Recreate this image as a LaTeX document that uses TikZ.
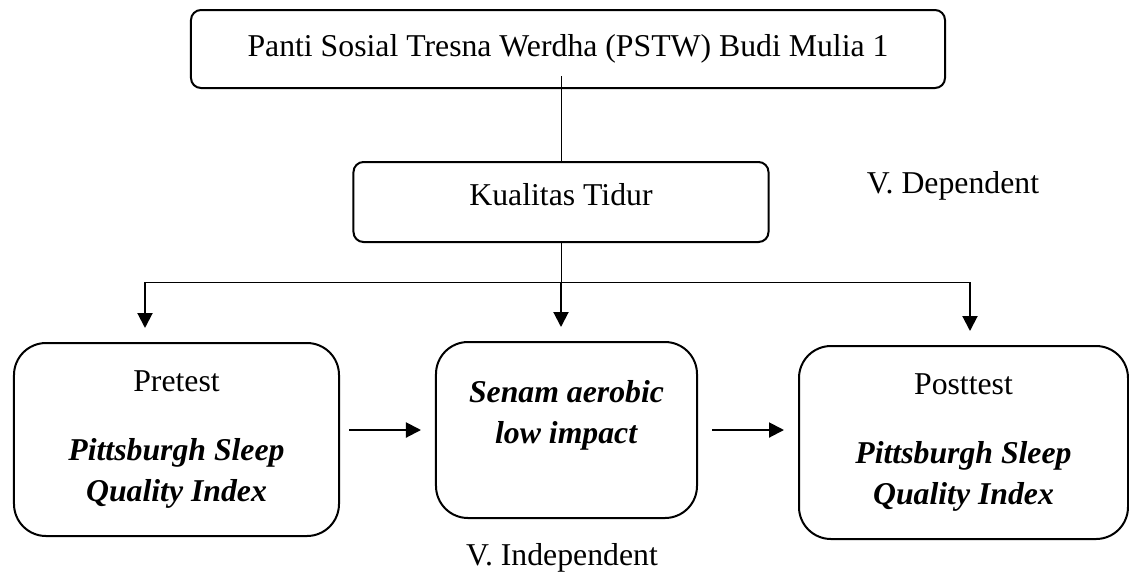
\documentclass[tikz,border=0pt]{standalone}
\usepackage{fontspec}
\setmainfont{Liberation Serif}
\usepackage{tikz}
\usetikzlibrary{arrows.meta,positioning}

\begin{document}
\begin{tikzpicture}[x=0.4pt, y=-0.4pt, font=\fontsize{12.7}{16.4}\selectfont,
  box/.style={draw, line width=0.8pt, rounded corners=4pt, align=center},
  bigbox/.style={box, rounded corners=12.8pt},
  arrow/.style={line width=0.8pt, -{Triangle[length=6pt,width=6pt]}}]
\useasboundingbox (0,0) rectangle (1129,576);
           \node[box, minimum width=301.6pt, minimum height=31.2pt] (pstw) at (568,49) {Panti Sosial Tresna Werdha (PSTW) Budi Mulia 1};
           \node[box, minimum width=166pt, minimum height=32pt, text depth=6.4pt] (kt) at (561,202) {Kualitas Tidur};
           \node[anchor=base west] (dep) at (858,193) {V. Dependent};
           \node[bigbox, minimum width=130pt, minimum height=77.2pt] (pre) at (176.5,439.5)
             {Pretest\\[11.2pt]\textbf{\textit{Pittsburgh Sleep}}\\\textbf{\textit{Quality Index}}};
           \node[bigbox, minimum width=104.4pt, minimum height=70.4pt] (senam) at (566.5,430)
             {\textbf{\textit{Senam aerobic}}\\\textbf{\textit{low impact}}\\[-2pt]\mbox{}};
           \node[bigbox, minimum width=131.6pt, minimum height=77.2pt] (post) at (963.5,442.5)
             {Posttest\\[11.2pt]\textbf{\textit{Pittsburgh Sleep}}\\\textbf{\textit{Quality Index}}};
           \node[anchor=base] (indep) at (562,565) {V. Independent};
           \coordinate (hl) at (145,282);
           \coordinate (hr) at (970,282);
           \coordinate (hm) at (kt.south |- hl);
           \draw[line width=0.4pt] ([yshift=5.2pt]pstw.south -| kt.north) -- (kt.north);
           \draw[line width=0.4pt] (kt.south) -- (hm);
           \draw[line width=0.4pt] (hl) -- (hr);
           \path[arrow, shorten >=5.6pt]
            (hl) edge (hl |- pre.north)
            (hm) edge (hm |- senam.north)
            (hr) edge (hr |- post.north)
            ;
           \path[arrow]
            (pre.east |- senam.west) edge[shorten <=3.6pt, shorten >=5.6pt] (senam.west)
            (senam.east) edge[shorten <=5.6pt, shorten >=5.6pt] (senam.east -| post.west)
            ;
        \end{tikzpicture}
\end{document}
